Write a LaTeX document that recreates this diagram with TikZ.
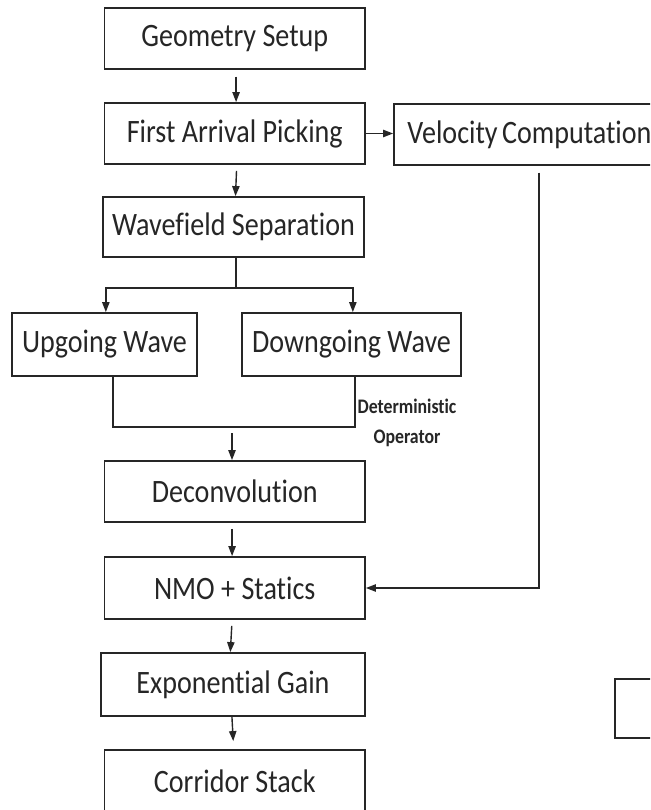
\documentclass[tikz,border=0pt]{standalone}
\usepackage{fontspec}
\setmainfont{Carlito}[FakeStretch=0.86,Ligatures=NoCommon]
\usetikzlibrary{arrows.meta,calc}
\definecolor{ink}{HTML}{262626}
\begin{document}
\begin{tikzpicture}[x=0.75pt,y=-0.75pt,
  box/.style={draw=ink, line width=1.35pt, inner sep=0pt, text=ink, align=center,
              font=\fontsize{24.5}{28}\selectfont},
  arr/.style={draw=ink, line width=1.05pt, -{Triangle[length=7.5pt,width=5.5pt]}},
  ln/.style={draw=ink, line width=1.05pt},
  note/.style={text=ink, font=\fontsize{15.5}{22}\selectfont\bfseries, align=center, inner sep=0pt}]
\useasboundingbox (0,0) rectangle (650,810);
\clip (0,0) rectangle (650,810);
\fill[white] (0,0) rectangle (650,810);

\node[box, minimum width=195.4pt, minimum height=45.75pt] (geo) at (234.75,38.5) {Geometry Setup};
\node[box, minimum width=195.4pt, minimum height=45.75pt] (fap) at (234.75,133.5) {First Arrival Picking};
\node[box, minimum width=203.25pt, minimum height=45.75pt] (vel) at (529.5,134.5) {Velocity\hspace{-1.5pt} Computation};
\node[box, minimum width=195.75pt, minimum height=45pt] (wav) at (233.5,227) {Wavefield Separation};
\node[box, minimum width=138.75pt, minimum height=47.25pt] (up) at (104.5,344.5) {Upgoing Wave};
\node[box, minimum width=164.25pt, minimum height=47.25pt] (down) at (351.5,344.5) {Downgoing Wave};
\node[box, minimum width=195.4pt, minimum height=45.75pt] (dec) at (234.75,491.5) {Deconvolution};
\node[box, minimum width=195.4pt, minimum height=46.5pt] (nmo) at (234.75,588) {NMO + Statics};
\node[box, minimum width=198pt, minimum height=47.25pt] (exp) at (233,684.5) {Exponential Gain};
\node[box, minimum width=195.4pt, minimum height=51pt, text depth=0pt] (cor) at (234.75,784) {\raisebox{4.5pt}{Corridor Stack}};
\node[box, minimum width=78.75pt, minimum height=44.25pt] (extra) at (667.5,708.5) {};
\node[note] (det) at (407,423) {Deterministic\\Operator};

\draw[arr, shorten <=5pt] ([xshift=1pt]geo.south) -- ([xshift=1pt]fap.north);
\draw[arr] (fap.east) -- (vel.west |- fap.east);
\draw[arr, shorten <=4.5pt] ([xshift=1.5pt]fap.south) -- ([xshift=1.5pt]wav.north);
\draw[ln] ([xshift=1.8pt]wav.south) -- ++(0,30) coordinate (split);
\draw[arr] (split) -| ([xshift=1pt]up.north);
\draw[arr] (split) -| ([xshift=1pt]down.north);
\draw[ln] ([xshift=6.4pt]up.south) -- ++(0,50) coordinate (mergeL) -| ([xshift=2.6pt]down.south);
\coordinate (mergeout) at (232,433);
\draw[arr] (mergeout) -- (mergeout |- dec.north);
\draw[arr, shorten <=4.5pt] ([xshift=-2pt]dec.south) -- ([xshift=-2pt]nmo.north);
\draw[arr, shorten <=4.5pt] ([xshift=-2pt]nmo.south) -- ([xshift=-2pt]exp.north);
\draw[arr, shorten >=6pt] ([xshift=-0.8pt]exp.south) -- ([xshift=-0.8pt]cor.north);
\draw[arr, shorten <=5pt] ([xshift=7.1pt]vel.south) |- (nmo.east);
\end{tikzpicture}
\end{document}
